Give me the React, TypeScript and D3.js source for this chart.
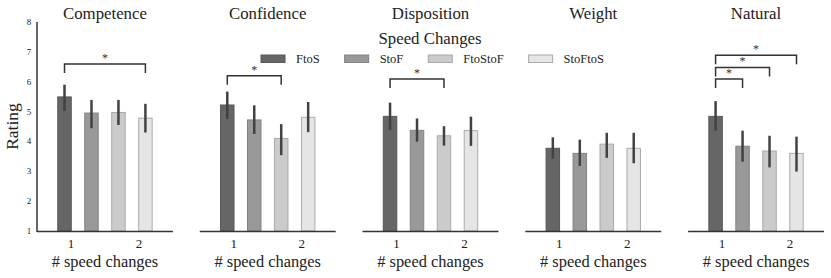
import React, { useRef, useEffect } from 'react';
import * as d3 from 'd3';

// Datos
const metrics = ['Competence', 'Confidence', 'Disposition', 'Weight', 'Natural'];
const conditions = ['FtoS', 'StoF', 'FtoStoF', 'StoFtoS'];

// medias por métrica (orden de conditions)
const means = [
  [5.49, 4.95, 4.97, 4.78],
  [5.22, 4.72, 4.1, 4.81],
  [4.84, 4.37, 4.19, 4.36],
  [3.77, 3.6, 3.91, 3.77],
  [4.84, 3.84, 3.68, 3.6],
];
const errLow = [
  [5.02, 4.44, 4.55, 4.3],
  [4.75, 4.25, 3.54, 4.31],
  [4.38, 3.99, 3.86, 3.85],
  [3.42, 3.18, 3.45, 3.27],
  [4.36, 3.32, 3.13, 2.99],
];
const errHigh = [
  [5.9, 5.39, 5.39, 5.26],
  [5.67, 5.21, 4.58, 5.32],
  [5.3, 4.77, 4.51, 4.83],
  [4.14, 4.06, 4.29, 4.29],
  [5.35, 4.36, 4.19, 4.16],
];

// corchetes de significancia: [métrica, desde, hasta, altura]
const brackets: [number, number, number, number][] = [
  [0, 0, 3, 6.59],
  [1, 0, 2, 6.2],
  [2, 0, 2, 6.09],
  [4, 0, 1, 6.09],
  [4, 0, 2, 6.48],
  [4, 0, 3, 6.89],
];

const yTicks = [1, 2, 3, 4, 5, 6, 7, 8];
const xTicks = [1, 2];

const fills = ['#666666', '#999999', '#cbcbcb', '#e5e5e5'];
const strokes = ['#565656', '#838383', '#a9a9a9', '#ababab'];

const FONT = '"Liberation Serif", serif';

const App = () => {
  const svgRef = useRef<SVGSVGElement>(null);
  const width = 831;
  const height = 278;

  useEffect(() => {
    const svg = d3.select(svgRef.current);
    svg.selectAll('*').remove();

    const yScale = d3.scaleLinear().domain([1, 8]).range([231, 22]);

    const panelScale = d3.scaleBand<string>()
      .domain(metrics)
      .range([37, 824])
      .paddingInner(0.165)
      .paddingOuter(0);
    const pw = panelScale.bandwidth();

    const barScale = d3.scaleBand<string>()
      .domain(conditions)
      .range([0, pw])
      .paddingInner(0.5)
      .paddingOuter(0.77);

    const tickScale = d3.scaleLinear().domain([0.5, 2.5]).range([0, pw]);

    metrics.forEach((m, mi) => {
      const g = svg.append('g').attr('transform', `translate(${panelScale(m)},0)`);

      // título
      g.append('text')
        .attr('x', pw / 2)
        .attr('y', 19)
        .attr('text-anchor', 'middle')
        .attr('font-family', FONT)
        .attr('font-size', 16.8)
        .attr('fill', '#222')
        .text(m);

      // barras
      conditions.forEach((c, ci) => {
        g.append('rect')
          .attr('x', barScale(c)!)
          .attr('y', yScale(means[mi][ci]))
          .attr('width', barScale.bandwidth())
          .attr('height', yScale(1) - yScale(means[mi][ci]))
          .attr('fill', fills[ci])
          .attr('stroke', strokes[ci])
          .attr('stroke-width', 1);

        const cx = barScale(c)! + barScale.bandwidth() / 2;
        g.append('line')
          .attr('x1', cx)
          .attr('x2', cx)
          .attr('y1', yScale(errLow[mi][ci]))
          .attr('y2', yScale(errHigh[mi][ci]))
          .attr('stroke', '#424242')
          .attr('stroke-width', 2.5);
      });

      // eje x
      g.append('line')
        .attr('x1', 0)
        .attr('x2', pw)
        .attr('y1', yScale(1) + 0.5)
        .attr('y2', yScale(1) + 0.5)
        .attr('stroke', '#333')
        .attr('stroke-width', 1.5);

      xTicks.forEach(t => {
        g.append('text')
          .attr('x', tickScale(t))
          .attr('y', 248)
          .attr('text-anchor', 'middle')
          .attr('font-family', FONT)
          .attr('font-size', 13)
          .attr('fill', '#222')
          .text(t);
      });

      g.append('text')
        .attr('x', pw / 2)
        .attr('y', 267)
        .attr('text-anchor', 'middle')
        .attr('font-family', FONT)
        .attr('font-size', 16.4)
        .attr('fill', '#222')
        .text('# speed changes');

      // eje y solo en el primer panel
      if (mi === 0) {
        g.append('line')
          .attr('x1', 0)
          .attr('x2', 0)
          .attr('y1', yScale(8))
          .attr('y2', yScale(1) + 1)
          .attr('stroke', '#333')
          .attr('stroke-width', 1.5);
        yTicks.forEach(t => {
          g.append('text')
            .attr('x', -8)
            .attr('y', yScale(t) + 3)
            .attr('text-anchor', 'middle')
            .attr('font-family', FONT)
            .attr('font-size', 9)
            .attr('fill', '#222')
            .text(t);
        });
      }
    });

    // etiqueta eje y
    svg.append('text')
      .attr('transform', `translate(18,${(yScale(1) + yScale(8)) / 2}) rotate(-90)`)
      .attr('text-anchor', 'middle')
      .attr('font-family', FONT)
      .attr('font-size', 17.5)
      .attr('fill', '#222')
      .text('Rating');

    // corchetes de significancia
    brackets.forEach(([mi, a, b, v]) => {
      const px = panelScale(metrics[mi])!;
      const x1 = px + barScale(conditions[a])! + barScale.bandwidth() / 2;
      const x2 = px + barScale(conditions[b])! + barScale.bandwidth() / 2;
      const y = yScale(v);
      svg.append('path')
        .attr('d', `M${x1},${y + 9}V${y}H${x2}V${y + 9}`)
        .attr('fill', 'none')
        .attr('stroke', '#333')
        .attr('stroke-width', 1.5);
      svg.append('text')
        .attr('x', (x1 + x2) / 2)
        .attr('y', y - 2)
        .attr('text-anchor', 'middle')
        .attr('font-family', FONT)
        .attr('font-size', 12)
        .attr('fill', '#333')
        .text('*');
    });

    // leyenda
    svg.append('text')
      .attr('x', 430)
      .attr('y', 44)
      .attr('text-anchor', 'middle')
      .attr('font-family', FONT)
      .attr('font-size', 16.8)
      .attr('fill', '#222')
      .text('Speed Changes');

    let lx = 261;
    conditions.forEach((c, ci) => {
      svg.append('rect')
        .attr('x', lx)
        .attr('y', 55)
        .attr('width', 24)
        .attr('height', 7.5)
        .attr('fill', fills[ci])
        .attr('stroke', strokes[ci])
        .attr('stroke-width', 1);
      const t = svg.append('text')
        .attr('x', lx + 35)
        .attr('y', 62.5)
        .attr('font-family', FONT)
        .attr('font-size', 12.5)
        .attr('fill', '#222')
        .text(c);
      const tw = (t.node() as SVGTextElement).getComputedTextLength();
      lx += 35 + tw + 25;
    });
  }, []);

  return (
    <svg
      ref={svgRef}
      width={width}
      height={height}
      style={{ position: 'absolute', left: 0, top: 0, background: '#fff' }}
    ></svg>
  );
};

export default App;
